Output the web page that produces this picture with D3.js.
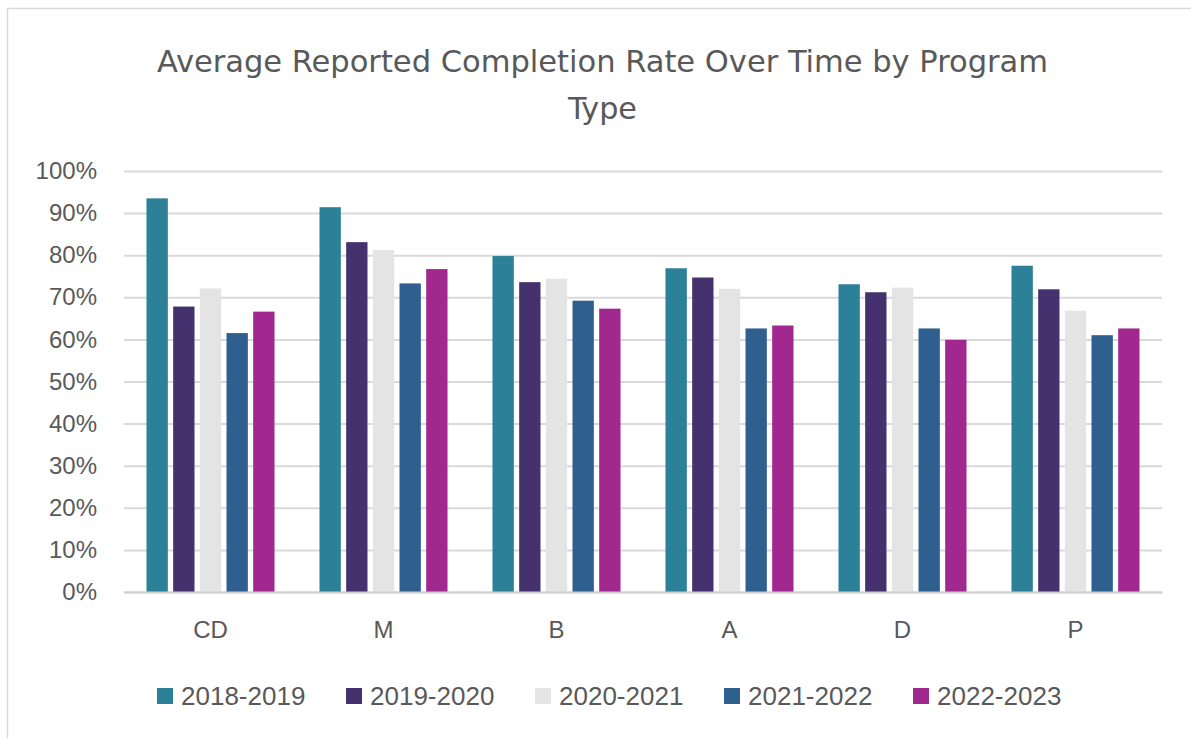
<!DOCTYPE html>
<html>
<head>
<meta charset="utf-8">
<script src="https://cdn.jsdelivr.net/npm/d3@7"></script>
<style>
  html, body { margin: 0; padding: 0; background: #ffffff; }
  svg { display: block; }
  text { fill: #595959; font-family: "Liberation Sans", Arial, sans-serif; }
  .title { font-family: "Liberation Sans Narrow", "DejaVu Sans Condensed", sans-serif; }
</style>
</head>
<body>
<div id="chart"></div>
<script>
// data
const programs = ["CD", "M", "B", "A", "D", "P"];
const years = ["2018-2019", "2019-2020", "2020-2021", "2021-2022", "2022-2023"];
const colors = ["#2c8098", "#46316f", "#e4e4e4", "#2f5f8f", "#a0288f"];
const yTicks = [0, 0.1, 0.2, 0.3, 0.4, 0.5, 0.6, 0.7, 0.8, 0.9, 1.0];

const rate2018 = [0.935, 0.914, 0.798, 0.769, 0.731, 0.775];
const rate2019 = [0.678, 0.831, 0.736, 0.747, 0.712, 0.719];
const rate2020 = [0.721, 0.812, 0.744, 0.720, 0.723, 0.668];
const rate2021 = [0.615, 0.733, 0.692, 0.626, 0.626, 0.610];
const rate2022 = [0.666, 0.767, 0.673, 0.633, 0.599, 0.626];

const seriesValues = [rate2018, rate2019, rate2020, rate2021, rate2022];

const width = 1191, height = 738;
const margin = { top: 171, right: 29, bottom: 146, left: 124 };
const plotW = width - margin.left - margin.right;
const plotH = height - margin.top - margin.bottom;

const rows = programs.map((p, i) => ({
    program: p,
    values: years.map((y, j) => ({ year: y, value: seriesValues[j][i], idx: j }))
}));

const svg = d3.select("#chart")
    .append("svg")
    .attr("width", width)
    .attr("height", height);

// chart frame
svg.append("rect")
    .attr("x", 7.5)
    .attr("y", 8.5)
    .attr("width", 1300)
    .attr("height", 800)
    .attr("fill", "#ffffff")
    .attr("stroke", "#d9d9d9")
    .attr("stroke-width", 1.5);

// title
svg.append("text")
    .attr("class", "title")
    .attr("x", 602.5)
    .attr("y", 72)
    .attr("text-anchor", "middle")
    .attr("font-size", 31)
    .attr("textLength", 891)
    .attr("lengthAdjust", "spacingAndGlyphs")
    .text("Average Reported Completion Rate Over Time by Program");

svg.append("text")
    .attr("class", "title")
    .attr("x", 602.5)
    .attr("y", 119)
    .attr("text-anchor", "middle")
    .attr("font-size", 31)
    .attr("textLength", 69)
    .attr("lengthAdjust", "spacingAndGlyphs")
    .text("Type");

const g = svg.append("g")
    .attr("transform", `translate(${margin.left}, ${margin.top})`);

const x0 = d3.scaleBand()
    .domain(programs)
    .range([0, plotW])
    .paddingInner(0.26)
    .paddingOuter(0.13);

const x1 = d3.scaleBand()
    .domain(years)
    .range([0, x0.bandwidth()])
    .paddingInner(0.2);

const y = d3.scaleLinear()
    .domain([0, 1])
    .range([plotH, 0]);

// gridlines + y labels
const yAxis = d3.axisLeft(y)
    .tickValues(yTicks)
    .tickFormat(d3.format(".0%"))
    .tickSize(-plotW)
    .tickPadding(27);

const yg = g.append("g").call(yAxis);
yg.select(".domain").remove();
yg.selectAll(".tick line")
    .attr("stroke", "#d9d9d9")
    .attr("stroke-width", 2);
yg.selectAll(".tick text")
    .attr("font-size", 24)
    .attr("fill", "#595959")
    .attr("font-family", "'Liberation Sans', Arial, sans-serif");

// bars
const groups = g.selectAll(".group")
    .data(rows)
    .enter()
    .append("g")
    .attr("class", "group")
    .attr("transform", d => `translate(${x0(d.program)}, 0)`);

groups.selectAll("rect")
    .data(d => d.values)
    .enter()
    .append("rect")
    .attr("x", d => x1(d.year))
    .attr("y", d => y(d.value))
    .attr("width", x1.bandwidth())
    .attr("height", d => plotH - y(d.value))
    .attr("fill", d => colors[d.idx]);

// x axis baseline + labels
const xAxis = d3.axisBottom(x0).tickSize(0).tickPadding(29);
const xg = g.append("g")
    .attr("transform", `translate(0, ${plotH})`)
    .call(xAxis);
xg.select(".domain")
    .attr("stroke", "#cfcfcf")
    .attr("stroke-width", 2);
xg.selectAll(".tick text")
    .attr("font-size", 24)
    .attr("fill", "#595959")
    .attr("font-family", "'Liberation Sans', Arial, sans-serif");

// legend
const legendX = d3.scalePoint()
    .domain(years)
    .range([157, 913]);

const legend = svg.append("g")
    .selectAll("g")
    .data(years)
    .enter()
    .append("g")
    .attr("transform", d => `translate(${legendX(d)}, 688)`);

legend.append("rect")
    .attr("width", 16)
    .attr("height", 16)
    .attr("fill", (d, i) => colors[i]);

legend.append("text")
    .attr("x", 24)
    .attr("y", 17)
    .attr("font-size", 26)
    .text(d => d);
</script>
</body>
</html>
